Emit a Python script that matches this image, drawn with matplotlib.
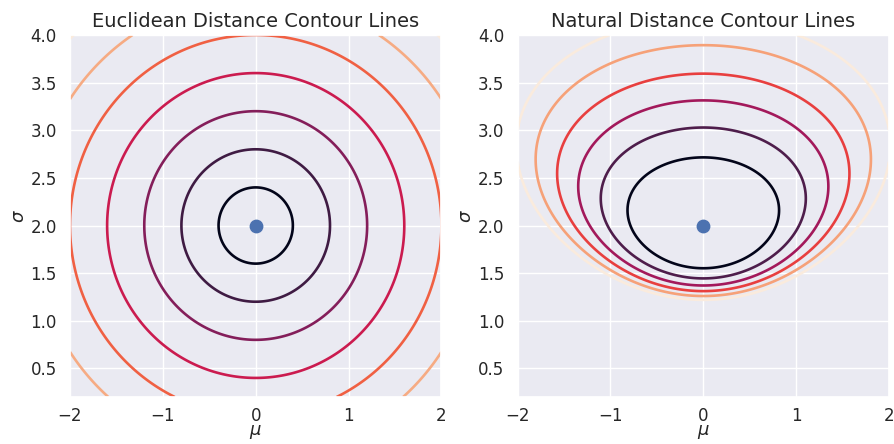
import matplotlib
matplotlib.use("Agg")
import matplotlib.pyplot as plt
import seaborn as sns
import numpy as np

# reference point (mu, sigma)
center_mu = 0.0
center_sigma = 2.0

# plot range
mu_range = [-2.0, 2.0]
sigma_range = [0.2, 4.0]

# contour levels
euclid_levels = [0.4, 0.8, 1.2, 1.6, 2.0, 2.4, 2.8]
natural_levels = [0.077, 0.133, 0.187, 0.241, 0.298, 0.35]


def euclid_dist(mu, sigma):
    return np.sqrt((mu - center_mu) ** 2 + (sigma - center_sigma) ** 2)


def natural_dist(mu, sigma):
    # KL( N(center) || N(mu, sigma) )
    return (np.log(sigma / center_sigma)
            + (center_sigma ** 2 + (center_mu - mu) ** 2) / (2 * sigma ** 2) - 0.5)


def plot():
    sns.set_theme()
    mu = np.linspace(mu_range[0], mu_range[1], 500)
    sigma = np.linspace(sigma_range[0], sigma_range[1], 500)
    M, S = np.meshgrid(mu, sigma)

    fig, axes = plt.subplots(1, 2, figsize=(8.95, 4.44), dpi=100)
    fig.subplots_adjust(left=0.0782, right=0.9933, top=0.9212, bottom=0.1059, wspace=0.205)

    panels = [("Euclidean Distance Contour Lines", euclid_dist(M, S), euclid_levels),
              ("Natural Distance Contour Lines", natural_dist(M, S), natural_levels)]
    for ax, (title, Z, levels) in zip(axes, panels):
        ax.contour(M, S, Z, levels=levels, cmap="rocket", linewidths=1.9)
        ax.scatter([center_mu], [center_sigma], s=80, color="#4c72b0", zorder=3)
        ax.set_title(title, fontsize=14)
        ax.set_xlabel(r"$\mu$", fontsize=13, labelpad=-1)
        ax.set_ylabel(r"$\sigma$", fontsize=13, labelpad=2)
        ax.set_xlim(mu_range)
        ax.set_ylim(sigma_range)
        ax.set_xticks([-2, -1, 0, 1, 2])
        ax.set_yticks([0.5, 1.0, 1.5, 2.0, 2.5, 3.0, 3.5, 4.0])
        ax.tick_params(labelsize=12)
        ax.tick_params(axis="x", pad=1)

    plt.savefig("out.png")


if __name__ == "__main__":
    plot()
